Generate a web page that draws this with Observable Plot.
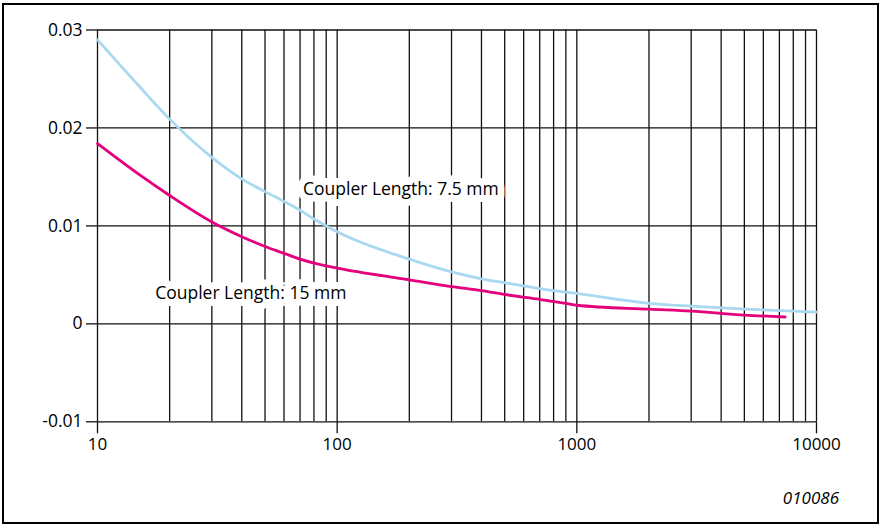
<!DOCTYPE html>
<html>
<head>
<meta charset="utf-8">
<script src="https://cdn.jsdelivr.net/npm/d3@7"></script>
<script src="https://cdn.jsdelivr.net/npm/@observablehq/plot@0.6"></script>
<style>
  html, body { margin: 0; padding: 0; background: #fff; }
  #wrap { position: relative; width: 881px; height: 525px; overflow: hidden; font-family: "Open Sans", "Noto Sans", sans-serif; }
  #frame { position: absolute; left: 2px; top: 3px; width: 877px; height: 521px; box-sizing: border-box; border: 2.5px solid #000; pointer-events: none; }
  #code { position: absolute; right: 42px; top: 486px; font-size: 17px; font-style: italic; color: #000; line-height: 23px; }
</style>
</head>
<body>
<div id="wrap">
  <div id="chart"></div>
  <div id="frame"></div>
  <div id="code">010086</div>
</div>
<script>
// Frequency (x, log scale) values
const blueX = [10, 15, 20, 30, 40, 50, 60, 70, 80, 90, 100, 200, 300, 400, 500, 700, 1000, 2000, 3000, 5000, 10000];
// Coupler Length: 7.5 mm
const blueY = [0.0290, 0.0242, 0.0209, 0.0170, 0.0148, 0.0135, 0.0125, 0.0116, 0.0107, 0.0100, 0.0094, 0.0066, 0.0053, 0.0046, 0.0042, 0.0036, 0.0031, 0.0021, 0.0018, 0.0015, 0.0012];

const magX = [10, 15, 20, 30, 40, 50, 60, 70, 80, 100, 200, 300, 400, 500, 700, 900, 1000, 2000, 3000, 5000, 7400];
// Coupler Length: 15 mm
const magY = [0.0184, 0.0152, 0.0131, 0.0104, 0.0089, 0.0079, 0.0072, 0.0066, 0.0062, 0.0057, 0.0045, 0.0038, 0.0034, 0.0030, 0.0025, 0.0021, 0.0019, 0.0015, 0.0013, 0.0009, 0.0007];

const xTicks = [10, 100, 1000, 10000];
const xGrid = [10,20,30,40,50,60,70,80,90,100,200,300,400,500,600,700,800,900,1000,2000,3000,4000,5000,6000,7000,8000,9000,10000];
const yTicks = [-0.01, 0, 0.01, 0.02, 0.03];

const labelText = ["Coupler Length: 7.5 mm", "Coupler Length: 15 mm"];
const labelX = [72, 17.4];
const labelY = [0.0137, 0.0031];

const blue = blueX.map((x, i) => ({x, y: blueY[i]}));
const mag = magX.map((x, i) => ({x, y: magY[i]}));
const labels = labelText.map((t, i) => ({t, x: labelX[i], y: labelY[i]}));

const chart = Plot.plot({
  width: 881,
  height: 525,
  marginLeft: 97,
  marginRight: 65,
  marginTop: 29.5,
  marginBottom: 103.7,
  style: { fontFamily: "'Open Sans', 'Noto Sans', sans-serif", fontSize: "17px", color: "#000", background: "transparent" },
  x: { type: "log", domain: [10, 10000] },
  y: { domain: [-0.01, 0.03] },
  marks: [
    Plot.ruleX(xGrid, { stroke: "#111", strokeWidth: 1.3 }),
    Plot.ruleY(yTicks, { stroke: "#111", strokeWidth: 1.3 }),
    Plot.axisY({ ticks: yTicks, tickSize: 11, tickPadding: 4, tickFormat: d => String(d), label: null, strokeWidth: 1.3, stroke: "#111", fontSize: 17.5 }),
    Plot.axisX({ ticks: xTicks, tickSize: 12, tickPadding: 4, tickFormat: d => String(d), label: null, strokeWidth: 1.3, stroke: "#111", fontSize: 17 }),
    Plot.text(labels, { x: "x", y: "y", text: "t", textAnchor: "start", fontSize: 17.5, fill: "#000", stroke: "white", strokeWidth: 14, strokeLinejoin: "round" }),
    Plot.line(blue, { x: "x", y: "y", stroke: "#a9d8f1", strokeWidth: 2.8, curve: "monotone-x" }),
    Plot.line(mag, { x: "x", y: "y", stroke: "#e4007c", strokeWidth: 2.8, curve: "monotone-x" })
  ]
});
document.getElementById("chart").appendChild(chart);
</script>
</body>
</html>
